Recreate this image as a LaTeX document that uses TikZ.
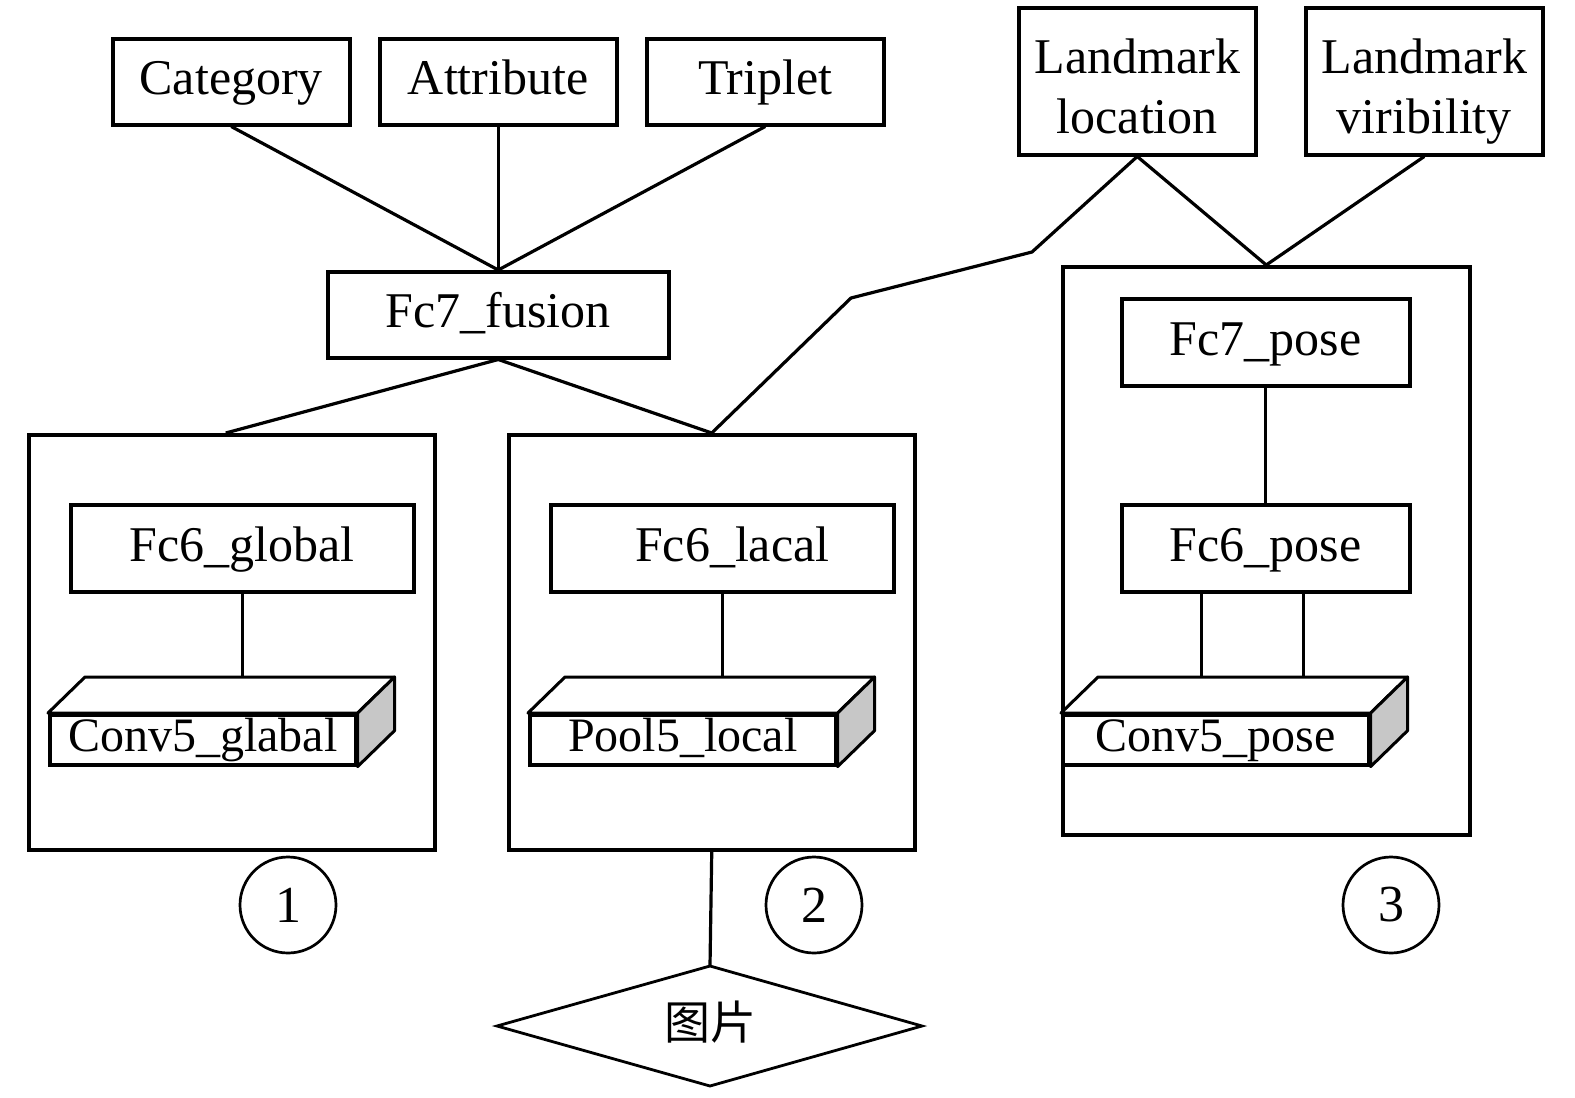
\documentclass[tikz,border=0pt]{standalone}
\usepackage{fontspec}
\setmainfont{Liberation Serif}
\newfontfamily\cjk{Noto Sans CJK SC}
\begin{document}
\begin{tikzpicture}[x=1pt,y=-1pt,
  every node/.style={font=\fontsize{50}{60}\selectfont},
  box/.style={draw, line width=3.5pt, inner sep=0pt, anchor=north west, align=center, text height=37pt, text depth=11pt},
  box2/.style={draw, line width=3.5pt, inner sep=0pt, anchor=north west, align=center, text height=110pt, text depth=5pt},
  bigbox/.style={draw, line width=3.5pt, inner sep=0pt, anchor=north west},
  front/.style={draw, line width=3.6pt, fill=white, inner sep=0pt, anchor=north west, minimum width=306pt, minimum height=50pt, font=\fontsize{48}{50}\selectfont, text height=34pt, text depth=10pt},
  face/.style={draw, line width=3pt, line join=round},
  conn/.style={draw, line width=3.2pt, line join=round},
  num/.style={draw, circle, line width=2.7pt, minimum size=96pt, inner sep=0pt, font=\fontsize{52}{60}\selectfont},
]
\useasboundingbox (0,0) rectangle (1575,1098);
% top boxes
\node[box, minimum width=237pt, minimum height=86pt] (cat) at (111,37) {Category};
\node[box, minimum width=237pt, minimum height=86pt] (att) at (378,37) {Attribute};
\node[box, minimum width=237pt, minimum height=86pt] (tri) at (645,37) {Triplet};
\node[box2, minimum width=237pt, minimum height=147pt] (ll) at (1017,6) {Landmark\\location};
\node[box2, minimum width=237pt, minimum height=147pt] (lv) at (1304,6) {Landmark\\viribility};
\node[box, minimum width=341pt, minimum height=86pt] (fus) at (326,270) {Fc7\_fusion};
% big boxes
\node[bigbox, minimum width=406pt, minimum height=415pt] (b1) at (27,433) {};
\node[bigbox, minimum width=406pt, minimum height=415pt] (b2) at (507,433) {};
\node[bigbox, minimum width=407pt, minimum height=568pt] (b3) at (1061,265) {};
% inner boxes
\node[box, minimum width=343pt, minimum height=87pt] (g6) at (69,503) {Fc6\_global};
\node[box, minimum width=343pt, minimum height=87pt] (l6) at (549,503) {\hspace*{20pt}Fc6\_lacal};
\node[box, minimum width=288pt, minimum height=87pt] (p7) at (1120,297) {Fc7\_pose};
\node[box, minimum width=288pt, minimum height=87pt] (p6) at (1120,503) {Fc6\_pose};
% 3D blocks
\foreach \nm/\px/\tx in {c1/48/Conv5\_glabal, c2/528/Pool5\_local, c3/1061/Conv5\_pose}{
  \node[front] (\nm) at (\px,713) {\tx};
  \draw[face, fill=white] (\nm.north west) -- ([shift={(37,-36)}]\nm.north west) -- ([shift={(37,-36)}]\nm.north east) -- (\nm.north east) -- cycle;
  \draw[face, fill=black!22] (\nm.north east) -- ([shift={(37,-36)}]\nm.north east) -- ([shift={(37,-36)}]\nm.south east) -- (\nm.south east) -- cycle;
  \coordinate (\nm t) at ([yshift=36pt]\nm.north);
}
% circles
\node[num] (n1) at (288,905) {1};
\node[num] (n2) at (814,905) {2};
\node[num] (n3) at (1391,905) {3};
% diamond
\node[inner sep=0pt, font=\cjk\fontsize{46}{50}\selectfont] (img) at (710,1022) {图片};
\coordinate (dt) at (710,966);
\coordinate (dr) at (922,1026);
\coordinate (db) at (710,1086);
\coordinate (dl) at (497,1026);
\draw[line width=2.8pt, line join=miter] (dt) -- (dr) -- (db) -- (dl) -- cycle;
% connectors
\draw[conn] (cat.south) -- (fus.north);
\draw[conn] (att.south) -- (fus.north);
\draw[conn] (tri.south) -- (fus.north);
\draw[conn] (fus.south) -- ([xshift=-6pt]b1.north);
\draw[conn] (fus.south) -- (b2.north);
\coordinate (k1) at (851,298);
\coordinate (k2) at (1032,252);
\draw[conn] (b2.north) -- (k1) -- (k2) -- (ll.south);
\draw[conn] (ll.south) -- (b3.north);
\draw[conn] (lv.south) -- (b3.north);
\draw[conn] (g6.south) -- (c1t -| g6.south);
\draw[conn] (l6.south) -- (c2t -| l6.south);
\draw[conn] (p7.south) -- (p6.north);
\draw[conn] ([xshift=-64pt]p6.south) -- ([xshift=-64pt]p6.south |- c3t);
\draw[conn] ([xshift=38pt]p6.south) -- ([xshift=38pt]p6.south |- c3t);
\draw[conn] (b2.south) -- (dt);
\end{tikzpicture}
\end{document}
